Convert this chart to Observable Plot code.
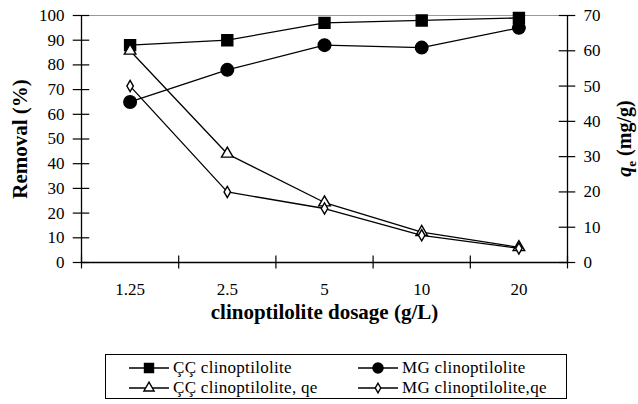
<!DOCTYPE html>
<html>
<head>
<meta charset="utf-8">
<script src="https://cdn.jsdelivr.net/npm/d3@7"></script>
<script src="https://cdn.jsdelivr.net/npm/@observablehq/plot@0.6"></script>
<style>
  body { margin: 0; background: #fff; }
  #wrap { position: relative; width: 638px; height: 404px; font-family: "Liberation Serif", "Times New Roman", serif; }
  #legend { position: absolute; left: 105px; top: 354px; width: 462px; height: 45px; border: 1px solid #000; box-sizing: border-box; font-size: 17px; letter-spacing: 0.3px; }
  .item { position: absolute; display: flex; align-items: center; white-space: nowrap; line-height: 18px; }
  .item svg { margin-right: 4px; }
</style>
</head>
<body>
<div id="wrap"><div id="chart"></div><div id="legend"></div></div>
<script>
const categories = ["1.25", "2.5", "5", "10", "20"];
const ccRemoval = [88, 90, 97, 98, 99];
const mgRemoval = [65, 78, 88, 87, 95];
const ccQe = [60, 30.8, 17, 8.6, 4.3];
const mgQe = [50, 20, 15.3, 7.7, 4];
const leftTicks = d3.range(0, 101, 10);
const rightTicks = d3.range(0, 71, 10);
const qeMax = 70;
const seriesNames = ["ÇÇ clinoptilolite", "MG clinoptilolite", "ÇÇ clinoptilolite, qe", "MG clinoptilolite,qe"];

const toPct = v => v * 100 / qeMax;
const seriesValues = [ccRemoval, mgRemoval, ccQe.map(toPct), mgQe.map(toPct)];
const seriesData = seriesValues.map(vals => vals.map((y, i) => ({i: i + 0.5, y})));
const catRows = categories.map((c, i) => ({c, i: i + 0.5}));
const bounds = d3.range(0, categories.length + 1);

const styles = [
  {symbol: "square", r: 6.2, fill: "#000", legendArea: 81, d3sym: d3.symbolSquare},
  {symbol: "circle", r: 6.3, fill: "#000", legendArea: 80, d3sym: d3.symbolCircle},
  {symbol: "triangle", r: 4.3, fill: "#fff", legendArea: 45, d3sym: d3.symbolTriangle},
  {symbol: "diamond", r: 3.4, fill: "#fff", legendArea: 26, d3sym: d3.symbolDiamond}
];

const W = 638, H = 335;
const seriesMarks = seriesData.flatMap((data, k) => [
  Plot.line(data, {x: "i", y: "y", stroke: "#000", strokeWidth: 1.3}),
  Plot.dot(data, {x: "i", y: "y", symbol: styles[k].symbol, r: styles[k].r, fill: styles[k].fill, stroke: "#000", strokeWidth: 1.4})
]);

const plot = Plot.plot({
  width: W, height: H,
  marginLeft: 81, marginRight: 71, marginTop: 15, marginBottom: H - 262,
  style: {fontFamily: "Liberation Serif, serif", fontSize: "17px", color: "#000", background: "#fff"},
  x: {domain: [0, categories.length], axis: null},
  y: {domain: [0, 100], axis: null},
  marks: [
    Plot.ruleY([100], {stroke: "#999", strokeWidth: 1.2}),
    Plot.ruleX([0, categories.length], {stroke: "#000", strokeWidth: 1.3}),
    Plot.ruleY([0], {stroke: "#000", strokeWidth: 1.3}),
    Plot.ruleY(leftTicks, {x1: -0.085, x2: 0.085, stroke: "#000", strokeWidth: 1.2}),
    Plot.text(leftTicks, {x: 0, y: d => d, text: d => String(d), textAnchor: "end", dx: -17, fontSize: 17}),
    Plot.ruleY(rightTicks.map(toPct), {x1: categories.length - 0.085, x2: categories.length + 0.085, stroke: "#000", strokeWidth: 1.2}),
    Plot.text(rightTicks, {x: categories.length, y: d => toPct(d), text: d => String(d), textAnchor: "start", dx: 16, fontSize: 17}),
    Plot.ruleX(bounds, {y1: -2.6, y2: 2.6, stroke: "#000", strokeWidth: 1.2}),
    Plot.text(catRows, {x: "i", y: 0, text: "c", dy: 27, fontSize: 17}),
    ...seriesMarks,
    Plot.text(["clinoptilolite dosage (g/L)"], {x: categories.length / 2, y: 0, text: d => d, dy: 50, fontSize: 21, fontWeight: "bold"}),
    Plot.text(["Removal (%)"], {x: 0, y: 50, text: d => d, dx: -61, rotate: -90, fontSize: 21, fontWeight: "bold"})
  ]
});
document.getElementById("chart").appendChild(plot);

const xs = plot.scale("x"), ys = plot.scale("y");
const rx = xs.apply(categories.length) + 64, ry = ys.apply(toPct(qeMax / 2));
const t = d3.select(plot).append("text")
  .attr("transform", `translate(${rx},${ry}) rotate(-90)`)
  .attr("text-anchor", "middle")
  .attr("font-family", "Liberation Serif, serif")
  .attr("font-size", 20).attr("font-weight", "bold");
t.append("tspan").attr("font-style", "italic").text("q");
t.append("tspan").attr("font-size", 13).attr("dy", 5).text("e");
t.append("tspan").attr("dy", -5).text(" (mg/g)");

const legend = document.getElementById("legend");
const pos = [[23, 4], [252, 4], [23, 24], [252, 24]];
seriesNames.forEach((name, k) => {
  const st = styles[k];
  const item = document.createElement("div");
  item.className = "item";
  item.style.left = pos[k][0] + "px";
  item.style.top = pos[k][1] + "px";
  const sym = d3.symbol(st.d3sym, st.legendArea)();
  item.innerHTML = `<svg width="40" height="16"><line x1="0" x2="40" y1="8" y2="8" stroke="#000" stroke-width="1.3"/><path d="${sym}" transform="translate(20,8)" fill="${st.fill}" stroke="#000" stroke-width="1.4"/></svg><span>${name}</span>`;
  legend.appendChild(item);
});
</script>
</body>
</html>
